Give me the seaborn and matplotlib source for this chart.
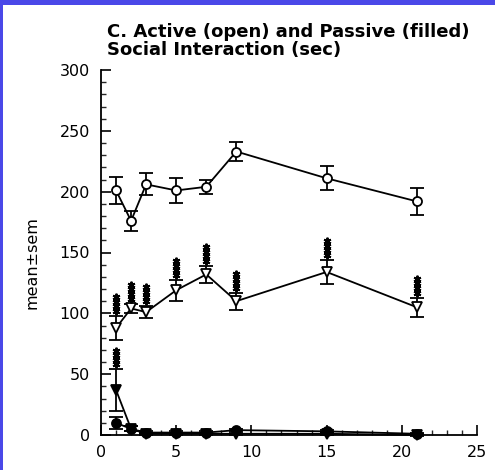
import numpy as np
import pandas as pd
import matplotlib
matplotlib.use("Agg")
import matplotlib.pyplot as plt
from matplotlib.patches import Rectangle
from matplotlib.ticker import MultipleLocator
import seaborn as sns

# ---- data ----
days = [1, 2, 3, 5, 7, 9, 15, 21]
active_circle = [201, 176, 206, 201, 204, 233, 211, 192]
active_circle_sem = [11, 8, 9, 10, 6, 8, 10, 11]
active_tri = [88, 104, 101, 119, 132, 110, 134, 105]
active_tri_sem = [10, 4, 5, 8.5, 7, 7, 10, 8]
passive_circle = [10, 5, 2, 2, 2, 4, 3, 1]
passive_circle_sem = [5, 2, 1, 1, 1, 1, 1, 1]
passive_tri = [37, 5, 1, 1, 1, 1, 1, 0]
passive_tri_sem = [17, 2, 1, 1, 1, 1, 1, 1]
sig_active_tri = [1, 1, 1, 1, 1, 1, 1, 1]
sig_passive_tri = [1, 0, 0, 0, 0, 0, 0, 0]

x_ticks = [0, 5, 10, 15, 20, 25]
y_ticks = [0, 50, 100, 150, 200, 250, 300]

sns.set_style("ticks")
plt.rcParams['font.family'] = ['DejaVu Sans']
plt.rcParams['text.color'] = 'black'

fig = plt.figure(figsize=(4.95, 4.70), dpi=100)
fig.set_facecolor('#4a48e8')
fig.patches.append(Rectangle((3 / 495, 0), 1, 1 - 5 / 470, transform=fig.transFigure,
                             facecolor='white', edgecolor='none', zorder=-10))
ax = fig.add_axes([101 / 495, 35 / 470, 376 / 495, 365 / 470])
ax.set_facecolor('none')

series = [
    (active_circle, active_circle_sem, 'o', 'white', 6.5),
    (active_tri, active_tri_sem, 'v', 'white', 7.5),
    (passive_circle, passive_circle_sem, 'o', 'black', 6.5),
    (passive_tri, passive_tri_sem, 'v', 'black', 7.5),
]
for vals, sem, mk, fc, ms in series:
    df = pd.DataFrame({'day': days, 'value': vals})
    ax.errorbar(days, vals, yerr=sem, fmt='none', ecolor='black', elinewidth=1.3,
                capsize=5, capthick=1.3, clip_on=False, zorder=2)
    sns.lineplot(data=df, x='day', y='value', ax=ax, color='black', linewidth=1.3,
                 marker=mk, markersize=ms, markerfacecolor=fc, markeredgecolor='black',
                 markeredgewidth=1.3, clip_on=False, zorder=3)

# significance asterisk stacks above the error bars
n_stars = 4
for vals, sem, sig in [(active_tri, active_tri_sem, sig_active_tri),
                       (passive_tri, passive_tri_sem, sig_passive_tri)]:
    for xd, v, s, g in zip(days, vals, sem, sig):
        if g:
            ys = [v + s + 4 + 3.8 * k for k in range(n_stars)]
            ax.plot([xd] * n_stars, ys, linestyle='none', marker=(6, 2, 0),
                    markersize=5.5, markeredgewidth=1.4, color='black', zorder=4)

ax.set_xlim(0, 25)
ax.set_ylim(0, 300)
ax.set_xticks(x_ticks)
ax.set_yticks(y_ticks)
ax.xaxis.set_minor_locator(MultipleLocator(1))
ax.yaxis.set_minor_locator(MultipleLocator(10))
ax.tick_params(which='major', direction='in', length=7, width=1.2, labelsize=11.5,
               colors='black')
ax.tick_params(axis='y', which='major', pad=8)
ax.tick_params(axis='x', which='major', pad=7)
ax.tick_params(which='minor', direction='in', length=3.5, width=1)
for side in ['top', 'right']:
    ax.spines[side].set_visible(False)
for side in ['left', 'bottom']:
    ax.spines[side].set_linewidth(1.3)
    ax.spines[side].set_color('black')
ax.set_xlabel('')
ax.set_ylabel('')

fig.text(107 / 495, 1 - 23 / 470, 'C. Active (open) and Passive (filled)\nSocial Interaction (sec)',
         ha='left', va='top', fontsize=13, fontweight='bold', linespacing=1.02, color='black')
fig.text(32 / 495, 1 - 263 / 470, 'mean±sem', rotation=90, ha='center', va='center',
         fontsize=11.5, color='black')

fig.savefig('out.png', dpi=100, facecolor=fig.get_facecolor())
